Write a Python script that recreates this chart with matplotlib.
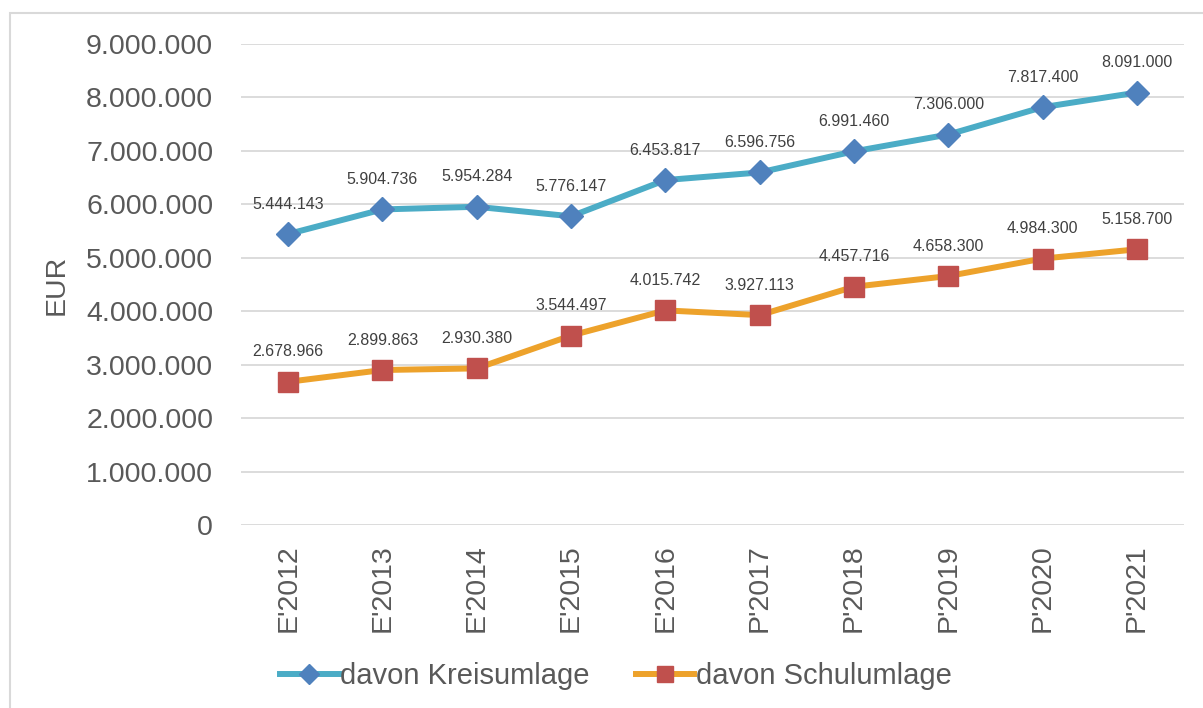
import matplotlib
matplotlib.use("Agg")
import matplotlib.pyplot as plt
from matplotlib.patches import Rectangle
from matplotlib.ticker import FuncFormatter

categories = ["E'2012", "E'2013", "E'2014", "E'2015", "E'2016",
              "P'2017", "P'2018", "P'2019", "P'2020", "P'2021"]
kreisumlage = [5444143, 5904736, 5954284, 5776147, 6453817,
               6596756, 6991460, 7306000, 7817400, 8091000]
schulumlage = [2678966, 2899863, 2930380, 3544497, 4015742,
               3927113, 4457716, 4658300, 4984300, 5158700]
yticks = [0, 1000000, 2000000, 3000000, 4000000, 5000000,
          6000000, 7000000, 8000000, 9000000]

def de_fmt(v):
    return f"{int(round(v)):,}".replace(",", ".")

plt.rcParams['font.family'] = ['Liberation Sans', 'DejaVu Sans']
txt = '#595959'

fig = plt.figure(figsize=(12.03, 7.08), dpi=100)
ax = fig.add_axes([241/1203, 1-525/708, (1184-241)/1203, (525-44)/708])

x = list(range(len(categories)))
ax.plot(x, kreisumlage, color='#4BACC6', lw=4.3, marker='D', ms=12,
        mfc='#4F81BD', mec='#4F81BD', label='davon Kreisumlage', zorder=3)
ax.plot(x, schulumlage, color='#EDA22B', lw=4.3, marker='s', ms=14,
        mfc='#C0504D', mec='#C0504D', label='davon Schulumlage', zorder=3)

for xi, v in zip(x, kreisumlage):
    ax.annotate(de_fmt(v), (xi, v), xytext=(0, 21.5), textcoords='offset points',
                ha='center', va='center', fontsize=11.5, color='#404040')
for xi, v in zip(x, schulumlage):
    ax.annotate(de_fmt(v), (xi, v), xytext=(0, 21.5), textcoords='offset points',
                ha='center', va='center', fontsize=11.5, color='#404040')

ax.set_xlim(-0.5, len(categories) - 0.5)
ax.set_ylim(0, 9000000)
ax.set_yticks(yticks)
ax.yaxis.set_major_formatter(FuncFormatter(lambda v, p: de_fmt(v)))
ax.set_xticks(x)
ax.set_xticklabels(categories, rotation=90)
ax.tick_params(axis='both', length=0, labelsize=20.5, colors=txt)
ax.tick_params(axis='x', pad=14)
ax.tick_params(axis='y', pad=20)
ax.grid(axis='y', color='#D9D9D9', lw=1.3)
ax.set_axisbelow(True)
for s in ax.spines.values():
    s.set_visible(False)
ax.set_ylabel('EUR', fontsize=20.5, color=txt, labelpad=12)

leg = ax.legend(loc='center', bbox_to_anchor=(616/1203, 1-676/708),
                bbox_transform=fig.transFigure, ncol=2, frameon=False,
                fontsize=21, handlelength=2.0, handletextpad=0.05,
                columnspacing=1.6, markerscale=0.85)
for t in leg.get_texts():
    t.set_color(txt)

fig.patches.append(Rectangle((10/1203, -0.1), 1.2, 1-13/708 + 0.1,
                             transform=fig.transFigure, fill=False,
                             edgecolor='#D9D9D9', lw=1.5))

fig.savefig('out.png', dpi=100)
